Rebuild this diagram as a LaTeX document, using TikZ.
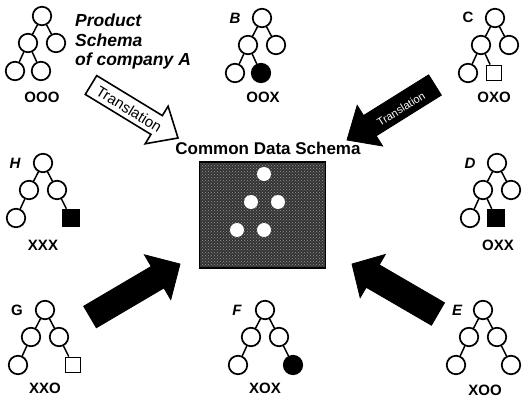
\documentclass[tikz,border=0pt]{standalone}
\usepackage{fontspec}
\setmainfont{Liberation Sans}
\usetikzlibrary{calc,patterns}

% block arrow: #1 style, #2 name, #3 tail, #4 tip, #5 shaft half-width, #6 head half-width, #7 head length
\newcommand\blockarrow[7]{%
  \coordinate (#2-neck) at ($(#4)!#7!(#3)$);
  \path[#1] ($(#3)!#5!90:(#4)$) -- ($(#2-neck)!#5!90:(#4)$) -- ($(#2-neck)!#6!90:(#4)$)
    -- (#4) -- ($(#2-neck)!#6!-90:(#4)$) -- ($(#2-neck)!#5!-90:(#4)$) -- ($(#3)!#5!-90:(#4)$) -- cycle;
}

\tikzset{
  tn/.style={circle, draw, line width=1.7pt, minimum size=18.5pt, inner sep=0pt},
  tnf/.style={tn, fill=black},
  ts/.style={rectangle, draw, line width=1.4pt, minimum size=15.5pt, inner sep=0pt},
  tsf/.style={ts, fill=black, minimum size=17pt},
  te/.style={line width=1.5pt},
  pics/lefttree/.style={code={
    \node[tn] (-r) at (0,0) {};
    \node[tn] (-a) at (-14,27) {};
    \node[tn] (-b) at (14,27) {};
    \node[tn] (-c) at (-27,55) {};
    \node[#1] (-d) at (-1,55) {};
    \draw[te] (-r) -- (-a) (-r) -- (-b) (-a) -- (-c) (-a) -- (-d);
  }},
  pics/splittree/.style={code={
    \node[tn] (-r) at (0,0) {};
    \node[tn] (-a) at (-14,27) {};
    \node[tn] (-b) at (14,27) {};
    \node[tn] (-c) at (-27,55) {};
    \node[#1] (-d) at (28,55) {};
    \draw[te] (-r) -- (-a) (-r) -- (-b) (-a) -- (-c) (-b) -- (-d);
  }},
  combo/.style={font=\bfseries\fontsize{15}{15}\selectfont, inner sep=0pt},
  treetag/.style={font=\bfseries\itshape\fontsize{15}{15}\selectfont, inner sep=0pt},
  treetagup/.style={font=\bfseries\fontsize{15}{15}\selectfont, inner sep=0pt},
  schemabox/.style={rectangle, draw=black, line width=1.5pt, fill=black!80,
    minimum width=126pt, minimum height=106pt, inner sep=0pt},
  dot/.style={circle, fill=white, minimum size=14pt, inner sep=0pt},
  whitearrow/.style={fill=white, draw=black, line width=1.6pt, line join=miter},
  blackarrow/.style={fill=black, draw=black, line width=0.8pt, line join=miter},
}

\begin{document}
\begin{tikzpicture}[x=1pt, y=-1pt]
\useasboundingbox (0,0) rectangle (523,401);

% common data schema
\node[font=\bfseries\fontsize{17}{17}\selectfont, inner sep=0pt] (title) at (268,148) {Common Data Schema};
\node[schemabox] (box) at (262.5,215) {};
\fill[pattern=crosshatch dots, pattern color=black!40]
  ([shift={(2pt,-2pt)}]box.north west) rectangle ([shift={(-2pt,2pt)}]box.south east);
\node[dot] (s1) at (264,174) {};
\node[dot] (s2) at (251,202) {};
\node[dot] (s3) at (278,202) {};
\node[dot] (s4) at (237,230) {};
\node[dot] (s5) at (264,230) {};

% product schemas
\pic (A) at (42,16) {lefttree=tn};
\node[combo] (A-lab) at (42,97) {OOO};
\node[font=\bfseries\itshape\fontsize{17.5}{19.5}\selectfont, align=left, anchor=north west, inner sep=0pt]
  (A-name) at (75,14) {Product\\Schema\\of company A};

\pic (B) at (262,18) {lefttree=tnf};
\node[combo] (B-lab) at (263,97) {OOX};
\node[treetag] (B-tag) at (235,18) {B};

\pic (C) at (495,18) {lefttree=ts};
\node[combo] (C-lab) at (494,97) {OXO};
\node[treetagup] (C-tag) at (468,17) {C};

\pic (D) at (497,163) {lefttree=tsf};
\node[combo] (D-lab) at (498,245) {OXX};
\node[treetag] (D-tag) at (470,163) {D};

\pic (E) at (483,310) {splittree=tn};
\node[combo] (E-lab) at (485,390) {XOO};
\node[treetag] (E-tag) at (457,310) {E};

\pic (F) at (265,310) {splittree=tnf};
\node[combo] (F-lab) at (265,388) {XOX};
\node[treetag] (F-tag) at (237,310) {F};

\pic (G) at (45,310) {splittree=ts};
\node[combo] (G-lab) at (45,388) {XXO};
\node[treetagup] (G-tag) at (17,310) {G};

\pic (H) at (43,163) {splittree=tsf};
\node[combo] (H-lab) at (43,245) {XXX};
\node[treetag] (H-tag) at (15,163) {H};

% translation arrows
\coordinate (tA) at (91,85);   \coordinate (hA) at (178,138);
\coordinate (tC) at (435,85);  \coordinate (hC) at (347,140);
\coordinate (tG) at (90,317);  \coordinate (hG) at (180,264);
\coordinate (tE) at (438,314); \coordinate (hE) at (352,264);

\blockarrow{whitearrow}{arA}{tA}{hA}{11pt}{22pt}{25pt}
\blockarrow{blackarrow}{arC}{tC}{hC}{12pt}{24pt}{27pt}
\blockarrow{blackarrow}{arG}{tG}{hG}{12.5pt}{26pt}{26pt}
\blockarrow{blackarrow}{arE}{tE}{hE}{13pt}{25pt}{24pt}

\node[rotate=-31.4, font=\fontsize{15}{15}\selectfont, inner sep=0pt] (trA) at (129,109) {Translation};
\node[rotate=32, font=\fontsize{11}{11}\selectfont, text=white, inner sep=0pt] (trC) at (401,109) {Translation};
\end{tikzpicture}
\end{document}
